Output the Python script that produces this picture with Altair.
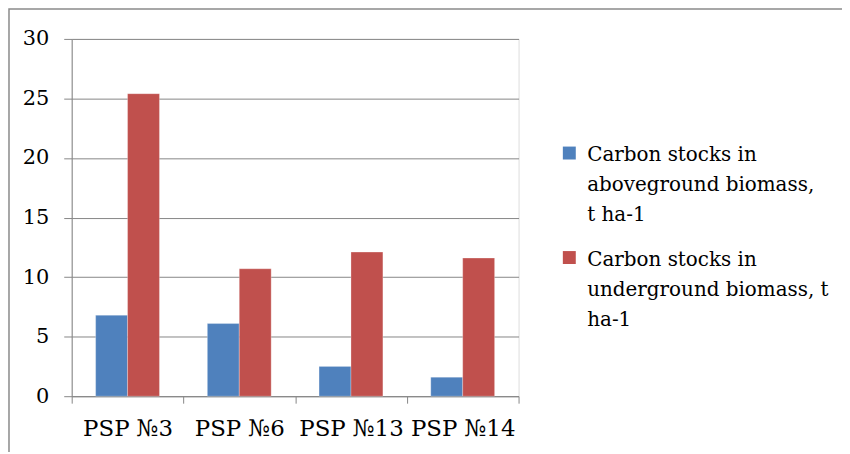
import altair as alt
import pandas as pd

categories = ["PSP №3", "PSP №6", "PSP №13", "PSP №14"]
series = [
    "Carbon stocks in\naboveground biomass,\nt ha-1",
    "Carbon stocks in\nunderground biomass, t\nha-1",
]
above = [6.8, 6.1, 2.5, 1.6]
under = [25.4, 10.7, 12.1, 11.6]
colors = ["#4F81BD", "#C0504D"]
y_ticks = [0, 5, 10, 15, 20, 25, 30]

rows = []
for c, a, u in zip(categories, above, under):
    rows.append({"cat": c, "series": series[0], "value": a})
    rows.append({"cat": c, "series": series[1], "value": u})
df = pd.DataFrame(rows)

FONT = "DejaVu Serif"
GRID = "#868686"
# square symbol shifted down so that it sits beside the first label line
SQUARE_DOWN = "M-1,0.18H1V2.18H-1Z"

bars = alt.Chart(df).mark_bar(stroke="#ffffff", strokeOpacity=0.35, strokeWidth=0.8).encode(
    x=alt.X("cat:N", sort=categories, title=None,
            scale=alt.Scale(paddingInner=0, paddingOuter=0),
            axis=alt.Axis(labelAngle=0, tickBand="extent", domainColor=GRID, tickColor=GRID,
                          tickSize=7, labelPadding=14, labelFontSize=23, labelFont=FONT,
                          labelColor="#000000", grid=False, labelBaseline="top")),
    xOffset=alt.XOffset("series:N", sort=series,
                        scale=alt.Scale(paddingInner=0, paddingOuter=0.75)),
    y=alt.Y("value:Q", title=None,
            scale=alt.Scale(domain=[0, 30], nice=False),
            axis=alt.Axis(values=y_ticks, domainColor=GRID, tickColor=GRID, gridColor=GRID,
                          tickSize=8, labelPadding=15, labelFontSize=21, labelFont=FONT,
                          labelColor="#000000", grid=True, gridWidth=1)),
    color=alt.Color("series:N", sort=series,
                    scale=alt.Scale(domain=series, range=colors),
                    legend=alt.Legend(title=None, orient="none", legendX=490, legendY=97,
                                      padding=0,
                                      symbolType=SQUARE_DOWN, symbolSize=169, symbolStrokeWidth=0,
                                      labelFont=FONT, labelFontSize=20, labelColor="#000000",
                                      labelExpr="split(datum.label, '\\n')",
                                      labelBaseline="top", labelOffset=8, rowPadding=15,
                                      labelLimit=400)),
)

frame = alt.Chart(pd.DataFrame({"k": [0]})).mark_rect(
    fill=None, stroke="#8a8a8a", strokeWidth=1.5
).encode(
    x=alt.value(-63), x2=alt.value(800), y=alt.value(-30), y2=alt.value(440)
)

chart = alt.layer(frame, bars).properties(
    width=449, height=359,
    autosize=alt.AutoSizeParams(type="none"),
    padding={"left": 64, "top": 30, "right": 325, "bottom": 55},
).configure_view(stroke=None).configure(
    font=FONT,
    style={"guide-label": {"lineHeight": 30, "font": FONT}}
)

chart.save("out.html", embed_options={"renderer": "svg", "actions": False})
